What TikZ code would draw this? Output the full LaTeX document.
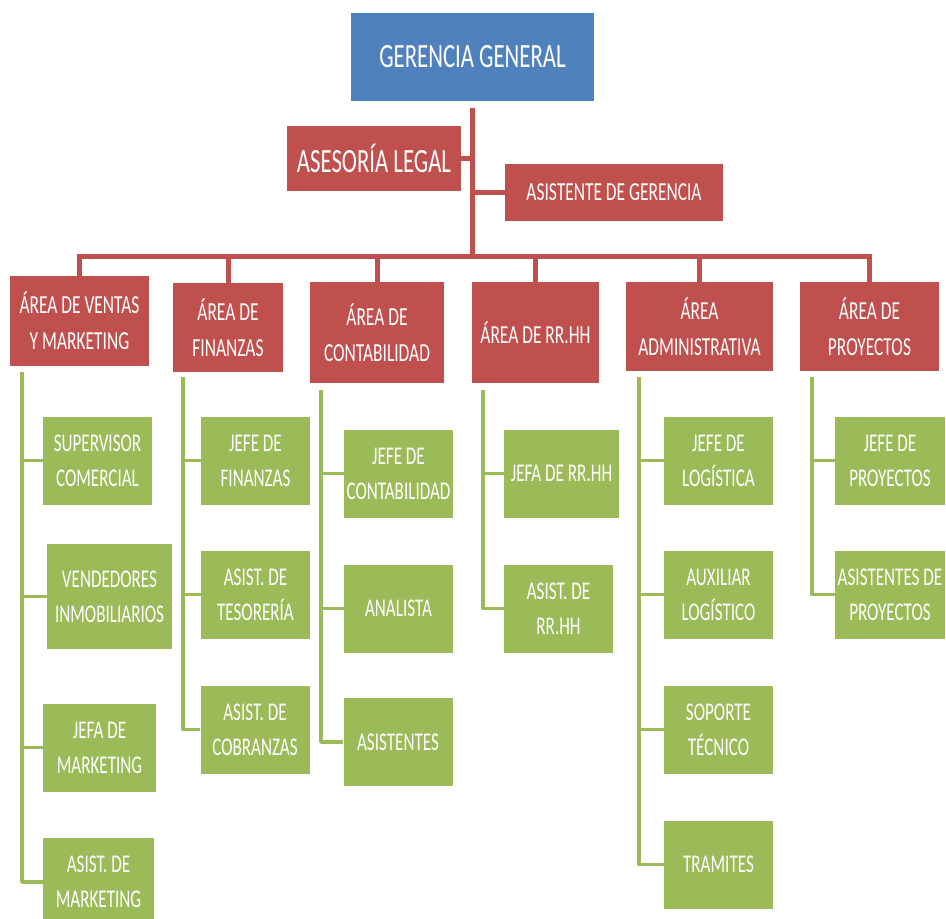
\documentclass[tikz,border=0pt]{standalone}
\usepackage{fontspec}
\setmainfont{Carlito}[FakeStretch=0.67]
\usetikzlibrary{positioning}
\definecolor{gerblue}{HTML}{4F81BD}
\definecolor{areared}{HTML}{C0504D}
\definecolor{cargogreen}{HTML}{9BBB59}

\begin{document}
\begin{tikzpicture}[x=1pt,y=-1pt,
  boss/.style={rectangle, fill=gerblue, text=white, align=center, inner sep=0pt, font=\fontsize{34}{40}\selectfont},
  staff/.style={rectangle, fill=areared, text=white, align=center, inner sep=0pt},
  area/.style={staff, font=\fontsize{26}{36}\selectfont},
  cargo/.style={rectangle, fill=cargogreen, text=white, align=center, inner sep=0pt, minimum width=109pt, minimum height=88pt, font=\fontsize{25.5}{35}\selectfont},
  rline/.style={draw=areared, line width=5pt},
  gline/.style={draw=cargogreen, line width=3.5pt, line join=round}]
  \useasboundingbox (0,0) rectangle (946,919);

  % gerencia
  \node[boss, minimum width=243pt, minimum height=88pt] (GG) at (472.5,57) {GERENCIA GENERAL};
  \node[staff, minimum width=174pt, minimum height=65pt, font=\fontsize{34}{40}\selectfont] (AL) at (374,158.5) {ASESORÍA LEGAL};
  \node[staff, minimum width=218pt, minimum height=57pt, font=\fontsize{26}{36}\selectfont] (AG) at (614,192.5) {ASISTENTE DE GERENCIA};

  % areas
  \node[area, minimum width=139pt, minimum height=90pt]  (V) at (79.5,321)   {ÁREA DE VENTAS\\Y MARKETING};
  \node[area, minimum width=110pt, minimum height=89pt]  (F) at (228,327.5)  {ÁREA DE\\FINANZAS};
  \node[area, minimum width=134pt, minimum height=101pt] (C) at (377,332.5)  {ÁREA DE\\CONTABILIDAD};
  \node[area, minimum width=127pt, minimum height=101pt] (R) at (535.5,332.5) {ÁREA DE RR.HH};
  \node[area, minimum width=147pt, minimum height=89pt]  (A) at (699.5,326.5) {ÁREA\\ADMINISTRATIVA};
  \node[area, minimum width=139pt, minimum height=89pt]  (P) at (869.5,326.5) {ÁREA DE\\PROYECTOS};

  % cargos
  \node[cargo] (v1) at (97.5,460.5) {SUPERVISOR\\COMERCIAL};
  \node[cargo, minimum width=125pt, minimum height=105pt] (v2) at (109.5,596.5) {VENDEDORES\\INMOBILIARIOS};
  \node[cargo, minimum width=113pt] (v3) at (99.5,747.5) {JEFA DE\\MARKETING};
  \node[cargo, minimum width=111pt] (v4) at (98.5,882) {ASIST. DE\\MARKETING};

  \node[cargo] (f1) at (255.5,460.5) {JEFE DE\\FINANZAS};
  \node[cargo] (f2) at (255.5,594.5) {ASIST. DE\\TESORERÍA};
  \node[cargo] (f3) at (255,729.5)   {ASIST. DE\\COBRANZAS};

  \node[cargo] (c1) at (398.5,473.5) {JEFE DE\\CONTABILIDAD};
  \node[cargo] (c2) at (398.5,608.5) {ANALISTA};
  \node[cargo] (c3) at (398,742)     {ASISTENTES};

  \node[cargo, minimum width=115pt] (r1) at (561.5,473.5) {JEFA DE RR.HH};
  \node[cargo] (r2) at (558.5,608.5) {ASIST. DE\\RR.HH};

  \node[cargo] (a1) at (718.5,460.5) {JEFE DE\\LOGÍSTICA};
  \node[cargo] (a2) at (718.5,594.5) {AUXILIAR\\LOGÍSTICO};
  \node[cargo] (a3) at (718.5,729.5) {SOPORTE\\TÉCNICO};
  \node[cargo] (a4) at (718.5,864.5) {TRAMITES};

  \node[cargo, minimum width=110pt] (p1) at (890,460.5) {JEFE DE\\PROYECTOS};
  \node[cargo, minimum width=110pt] (p2) at (890,594.5) {ASISTENTES DE\\PROYECTOS};

  % red lines
  \coordinate (bus) at (473,256);
  \draw[rline] ([yshift=-7pt]GG.south) -- (GG.south |- bus);
  \draw[rline] (AL.east) -- (AL.east -| GG.south);
  \draw[rline] (AG.west) -- (AG.west -| GG.south);
  \draw[rline] (V.north) -- (V.north |- bus) -- (P.north |- bus) -- (P.north);
  \foreach \n in {F,C,R,A}
    \draw[rline] (\n.north |- bus) -- (\n.north);

  % green lines
  \coordinate (Vt) at (22,372);
  \coordinate (Ft) at (183,377);
  \coordinate (Ct) at (321,390);
  \coordinate (Rt) at (483,390);
  \coordinate (At) at (639,377);
  \coordinate (Pt) at (812,377);
  \draw[gline] (Vt) |- (v4.west);
  \draw[gline] (Ft) |- (f3.west);
  \draw[gline] (Ct) |- (c3.west);
  \draw[gline] (Rt) |- (r2.west);
  \draw[gline] (At) |- (a4.west);
  \draw[gline] (Pt) |- (p2.west);
  \foreach \t/\c in {Vt/v1,Vt/v2,Vt/v3,Ft/f1,Ft/f2,Ct/c1,Ct/c2,Rt/r1,At/a1,At/a2,At/a3,Pt/p1}
    \draw[gline] (\t |- \c.west) -- (\c.west);
\end{tikzpicture}
\end{document}
